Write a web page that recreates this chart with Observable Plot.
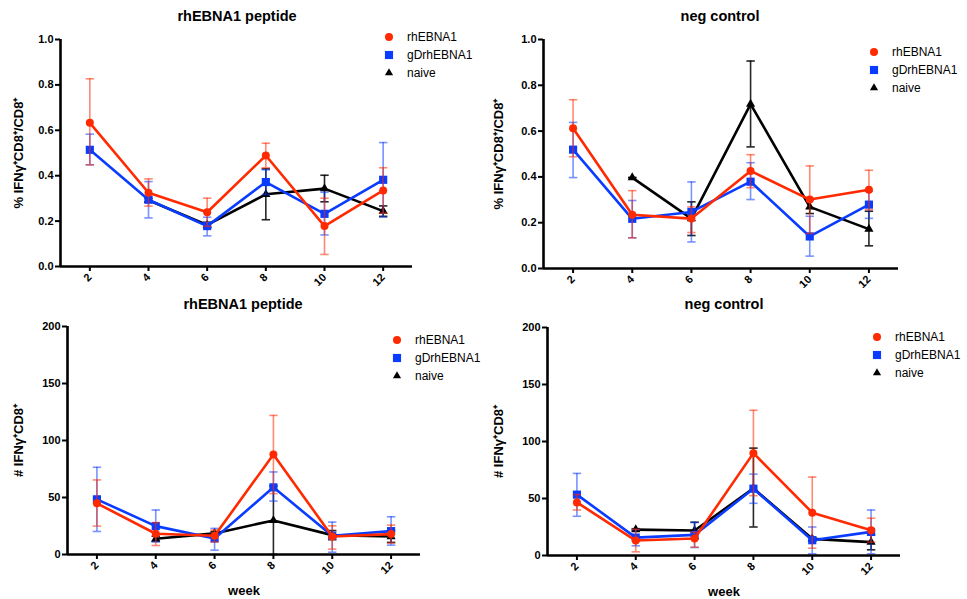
<!DOCTYPE html>
<html><head><meta charset="utf-8">
<script src="https://cdn.jsdelivr.net/npm/d3@7"></script>
<script src="https://cdn.jsdelivr.net/npm/@observablehq/plot@0.6"></script>
<style>
body{margin:0;background:#fff;font-family:"Liberation Sans",Arial,sans-serif;}
#root{position:relative;width:967px;height:599px;overflow:hidden;background:#fff;}
.panel{position:absolute;}
.title{position:absolute;font-weight:bold;font-size:14.5px;transform:translate(-50%,-50%);white-space:nowrap;color:#000;}
.legend{position:absolute;font-size:12px;color:#000;}
.legend .row{height:18px;display:flex;align-items:center;}
.legend svg{width:10px;height:10px;margin-right:13px;overflow:visible;}
</style>
</head><body><div id="root"></div>
<script>
// ---- data ----
const weeks = [2, 4, 6, 8, 10, 12];
const seriesNames = ["rhEBNA1", "gDrhEBNA1", "naive"];
const titles = ["rhEBNA1 peptide", "neg control", "rhEBNA1 peptide", "neg control"];
const pctTicks = [0, 0.2, 0.4, 0.6, 0.8, 1.0];
const numTicks = [0, 50, 100, 150, 200];

// panel 1: % IFNg+CD8+/CD8+, rhEBNA1 peptide
const p1_rh = [0.633, 0.325, 0.239, 0.489, 0.178, 0.335];
const p1_rhHi = [0.827, 0.386, 0.301, 0.543, 0.301, 0.435];
const p1_rhLo = [0.448, 0.266, 0.177, 0.435, 0.053, 0.235];
const p1_gd = [0.514, 0.294, 0.178, 0.372, 0.232, 0.382];
const p1_gdHi = [0.583, 0.374, 0.217, 0.426, 0.327, 0.546];
const p1_gdLo = [0.448, 0.214, 0.135, 0.317, 0.139, 0.217];
const p1_nv = [null, 0.292, 0.183, 0.318, 0.343, 0.244];
const p1_nvHi = [null, 0.300, 0.195, 0.430, 0.402, 0.267];
const p1_nvLo = [null, 0.285, 0.171, 0.206, 0.285, 0.221];

// panel 2: % IFNg+CD8+/CD8+, neg control
const p2_rh = [0.612, 0.235, 0.218, 0.426, 0.301, 0.344];
const p2_rhHi = [0.737, 0.340, 0.269, 0.497, 0.448, 0.429];
const p2_rhLo = [0.488, 0.134, 0.157, 0.353, 0.153, 0.257];
const p2_gd = [0.519, 0.217, 0.247, 0.379, 0.140, 0.279];
const p2_gdHi = [0.638, 0.297, 0.378, 0.462, 0.228, 0.337];
const p2_gdLo = [0.397, 0.134, 0.116, 0.301, 0.054, 0.219];
const p2_nv = [null, 0.397, 0.218, 0.718, 0.269, 0.172];
const p2_nvHi = [null, 0.397, 0.291, 0.906, 0.300, 0.250];
const p2_nvLo = [null, 0.397, 0.144, 0.531, 0.240, 0.099];

// panel 3: # IFNg+CD8+, rhEBNA1 peptide
const p3_rh = [44.9, 18.2, 16.4, 87.7, 15.8, 17.9];
const p3_rhHi = [65.4, 28.0, 21.4, 122.0, 25.2, 25.8];
const p3_rhLo = [24.9, 7.9, 11.1, 53.4, 4.7, 10.0];
const p3_gd = [48.4, 24.9, 14.1, 58.9, 16.4, 20.5];
const p3_gdHi = [76.5, 39.0, 22.9, 72.4, 28.4, 33.1];
const p3_gdLo = [20.2, 11.1, 3.8, 46.9, 2.0, 8.2];
const p3_nv = [null, 13.8, 18.5, 29.9, 17.0, 15.8];
const p3_nvHi = [null, 16.0, 20.0, 60.0, 21.0, 21.0];
const p3_nvLo = [null, 11.5, 17.0, 0.0, 13.0, 10.6];

// panel 4: # IFNg+CD8+, neg control
const p4_rh = [46.6, 13.1, 14.9, 89.8, 37.6, 22.2];
const p4_rhHi = [53.4, 23.0, 20.4, 127.4, 68.8, 32.7];
const p4_rhLo = [39.9, 3.2, 7.3, 52.5, 6.4, 11.7];
const p4_gd = [53.4, 15.7, 18.1, 58.6, 13.4, 20.7];
const p4_gdHi = [72.0, 22.7, 28.9, 71.4, 25.0, 39.9];
const p4_gdLo = [34.4, 8.5, 7.0, 45.8, 1.5, 1.5];
const p4_nv = [null, 22.7, 21.9, 58.9, 14.6, 11.7];
const p4_nvHi = [null, 23.5, 29.2, 94.2, 16.0, 18.0];
const p4_nvLo = [null, 21.9, 14.6, 25.0, 13.0, 5.0];

// ---- styles ----
const colors = {rhEBNA1: "#ff2a00", gDrhEBNA1: "#0a3cff", naive: "#000000"};
const symbols = {rhEBNA1: "circle", gDrhEBNA1: "square", naive: "triangle"};
const markR = {rhEBNA1: 4, gDrhEBNA1: 4.6, naive: 3.4};
const errOpacity = {rhEBNA1: 0.55, gDrhEBNA1: 0.55, naive: 0.85};
const capSymbol = {draw(ctx, size) { const w = Math.sqrt(size / Math.PI); ctx.moveTo(-w, 0); ctx.lineTo(w, 0); }};

function rows(mean, lo, hi) {
  return weeks.map((w, i) => ({week: w, mean: mean[i], lo: lo[i], hi: hi[i]})).filter(d => d.mean != null);
}

const panels = [
  {left: 0, top: 0, width: 480, height: 300, m: [39, 68, 34, 60], domain: [0, 1], ticks: pctTicks, fmt: ".1f",
   ylabel: "% IFNγ⁺CD8⁺/CD8⁺", xlabel: null,
   data: {rhEBNA1: rows(p1_rh, p1_rhLo, p1_rhHi), gDrhEBNA1: rows(p1_gd, p1_gdLo, p1_gdHi), naive: rows(p1_nv, p1_nvLo, p1_nvHi)},
   title: [237, 16], legend: [389, 407, 37]},
  {left: 480, top: 0, width: 487, height: 300, m: [39, 69, 32, 63], domain: [0, 1], ticks: pctTicks, fmt: ".1f",
   ylabel: "% IFNγ⁺CD8⁺/CD8⁺", xlabel: null,
   data: {rhEBNA1: rows(p2_rh, p2_rhLo, p2_rhHi), gDrhEBNA1: rows(p2_gd, p2_gdLo, p2_gdHi), naive: rows(p2_nv, p2_nvLo, p2_nvHi)},
   title: [720, 16], legend: [874, 892, 52]},
  {left: 0, top: 295, width: 480, height: 304, m: [31, 60, 45, 67], domain: [0, 200], ticks: numTicks, fmt: "d",
   ylabel: "# IFNγ⁺CD8⁺", xlabel: "week",
   data: {rhEBNA1: rows(p3_rh, p3_rhLo, p3_rhHi), gDrhEBNA1: rows(p3_gd, p3_gdLo, p3_gdHi), naive: rows(p3_nv, p3_nvLo, p3_nvHi)},
   title: [243, 304], legend: [397, 415, 340]},
  {left: 480, top: 295, width: 487, height: 304, m: [32, 67, 44, 67], domain: [0, 200], ticks: numTicks, fmt: "d",
   ylabel: "# IFNγ⁺CD8⁺", xlabel: "week",
   data: {rhEBNA1: rows(p4_rh, p4_rhLo, p4_rhHi), gDrhEBNA1: rows(p4_gd, p4_gdLo, p4_gdHi), naive: rows(p4_nv, p4_nvLo, p4_nvHi)},
   title: [724, 304], legend: [877, 893, 337]}
];

const root = document.getElementById("root");

panels.forEach((p, k) => {
  const marks = [];
  for (const s of ["naive", "gDrhEBNA1", "rhEBNA1"]) {
    const d = p.data[s];
    marks.push(Plot.line(d, {x: "week", y: "mean", stroke: colors[s], strokeWidth: 2.6}));
    marks.push(Plot.dot(d, {x: "week", y: "mean", symbol: symbols[s], fill: colors[s], stroke: "none", r: markR[s]}));
    const eo = errOpacity[s];
    marks.push(Plot.ruleX(d, {x: "week", y1: "lo", y2: "hi", stroke: colors[s], strokeWidth: 1.6, strokeOpacity: eo}));
    marks.push(Plot.dot(d, {x: "week", y: "hi", symbol: capSymbol, r: 4.2, fill: "none", stroke: colors[s], strokeWidth: 1.6, strokeOpacity: eo}));
    marks.push(Plot.dot(d, {x: "week", y: "lo", symbol: capSymbol, r: 4.2, fill: "none", stroke: colors[s], strokeWidth: 1.6, strokeOpacity: eo}));
  }
  marks.push(Plot.ruleY([p.domain[0]], {stroke: "#000", strokeWidth: 2.6}));
  marks.push(Plot.ruleX([1], {stroke: "#000", strokeWidth: 2.6}));
  marks.push(Plot.axisY({ticks: p.ticks, tickFormat: d3.format(p.fmt), tickSize: 5, tickPadding: 2, strokeWidth: 2,
    label: p.ylabel, labelAnchor: "center", labelArrow: "none", labelOffset: p.m[3] - 13, fontWeight: "bold", fontSize: 11}));
  marks.push(Plot.axisX({ticks: weeks, tickSize: 5, tickRotate: -45, tickPadding: 4, strokeWidth: 2,
    label: p.xlabel, labelAnchor: "center", labelArrow: "none", labelOffset: 40, fontWeight: "bold", fontSize: 11}));

  const chart = Plot.plot({
    width: p.width, height: p.height,
    marginTop: p.m[0], marginRight: p.m[1], marginBottom: p.m[2], marginLeft: p.m[3],
    style: {fontFamily: "'Liberation Sans', Arial, sans-serif", fontSize: "11px", color: "#000", background: "transparent", overflow: "visible"},
    x: {domain: [1, 13]},
    y: {domain: p.domain},
    marks
  });
  const wrap = document.createElement("div");
  wrap.className = "panel";
  wrap.style.left = p.left + "px";
  wrap.style.top = p.top + "px";
  wrap.appendChild(chart);
  root.appendChild(wrap);

  // enlarge the axis titles
  chart.querySelectorAll("text").forEach(t => {
    const s = t.textContent;
    if (s === p.ylabel || s === p.xlabel) { t.setAttribute("font-size", "13"); t.style.fontSize = "13px"; }
  });

  const tt = document.createElement("div");
  tt.className = "title";
  tt.style.left = p.title[0] + "px";
  tt.style.top = p.title[1] + "px";
  tt.textContent = titles[k];
  root.appendChild(tt);

  const lg = document.createElement("div");
  lg.className = "legend";
  lg.style.left = (p.legend[0] - 5) + "px";
  lg.style.top = (p.legend[2] - 9) + "px";
  for (const s of seriesNames) {
    const row = document.createElement("div");
    row.className = "row";
    const sym = d3.symbol(s === "rhEBNA1" ? d3.symbolCircle : s === "gDrhEBNA1" ? d3.symbolSquare : d3.symbolTriangle, Math.PI * markR[s] * markR[s] * (s === "naive" ? 0.8 : 1))();
    row.innerHTML = `<svg viewBox="-5 -5 10 10"><path d="${sym}" fill="${colors[s]}"/></svg><span>${s}</span>`;
    lg.appendChild(row);
  }
  root.appendChild(lg);
});
</script>
</body></html>
